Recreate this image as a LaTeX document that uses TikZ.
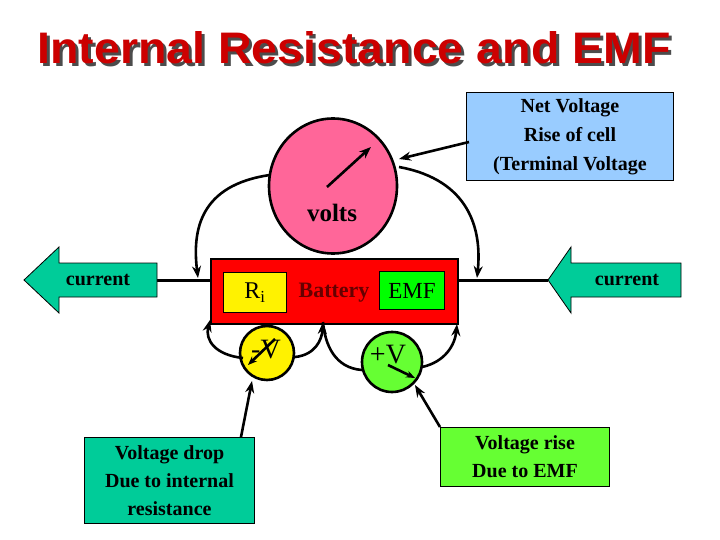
\documentclass[tikz,border=0pt]{standalone}
\usepackage{fontspec}
\setmainfont{Liberation Serif}
\newfontfamily\titlefont{Liberation Sans}
\usetikzlibrary{arrows.meta,shapes.arrows,shapes.geometric}
\definecolor{pinkm}{HTML}{FF6699}
\definecolor{lblue}{HTML}{99CCFF}
\definecolor{teal2}{HTML}{00CC99}
\definecolor{lgreen}{HTML}{66FF33}
\definecolor{titred}{HTML}{CC0000}
\newcommand{\titletext}{\resizebox{633pt}{32pt}{\titlefont\bfseries Internal Resistance and EMF}}
\begin{document}
\begin{tikzpicture}[x=1pt,y=-1pt,
  wire/.style={line width=3pt},
  conn/.style={line width=2.6pt,-{Stealth[length=12pt,width=9pt]}},
  txt/.style={font=\fontsize{20}{29}\selectfont\bfseries,align=center},
  box/.style={draw=black,line width=1pt,inner sep=0pt,anchor=north west}]
\useasboundingbox (0,0) rectangle (720,540);
\fill[white] (0,0) rectangle (720,540);
% title (with shadow in one node)
\node[inner sep=0pt] (title) at (354,49) {\rlap{\raisebox{-3pt}{\hspace{3pt}\textcolor{black!70}{\titletext}}}\textcolor{titred}{\titletext}};
% wires
\coordinate (wl) at (157,280); \coordinate (wr) at (548,280);
\draw[wire] (wl) -- (210,280);
\draw[wire] (457,280) -- (wr);
% current arrows
\draw[fill=teal2,line width=0.8pt] (157,263) -- (59,263) -- (59,247) -- (24,280) -- (59,313) -- (59,297) -- (157,297) -- cycle;
\node[txt] (cl) at (98,280) {current};
\draw[fill=teal2,line width=0.8pt] (681,263) -- (571,263) -- (571,247) -- (548,280) -- (571,313) -- (571,297) -- (681,297) -- cycle;
\node[txt] (cr) at (627,280) {current};
% battery
\node[box,fill=red,line width=2pt,minimum width=247pt,minimum height=65pt] (bat) at (210,258) {};
\node[box,fill=yellow,minimum width=63pt,minimum height=40pt] (ri) at (223,272) {};
\node[font=\fontsize{24}{24}\selectfont] at (ri.center) {R\textsubscript{i}};
\node[box,fill=green,minimum width=65pt,minimum height=38pt] (emf) at (379,271) {};
\node[font=\fontsize{23}{24}\selectfont] at (emf.center) {EMF};
\node[font=\fontsize{22}{24}\selectfont\bfseries,text=black!60!red] (battxt) at (334,293) {Battery};
% meter
\node[draw,line width=2.6pt,fill=pinkm,ellipse,minimum width=128pt,minimum height=135pt,inner sep=0pt] (m) at (333,186) {};
\node[font=\fontsize{25}{26}\selectfont\bfseries] (volts) at (332,213) {volts};
\coordinate (n1) at (327,187); \coordinate (n2) at (371,147);
\draw[conn] (n1) -- (n2);
% arcs from meter
\coordinate (ml) at (270,175); \coordinate (mr) at (399,167);
\coordinate (tl) at (198,278); \coordinate (tr) at (477,278);
\draw[conn] (ml) .. controls (200,185) and (192,230) .. (tl);
\draw[conn] (mr) .. controls (470,180) and (482,230) .. (tr);
% net voltage box
\node[box,fill=lblue,minimum width=207pt,minimum height=88pt] (nv) at (466,92) {};
\node[txt] at (nv.center) {Net Voltage\\Rise of cell\\(Terminal Voltage};
\coordinate (nvt) at (399,159);
\draw[conn] (469,142) -- (nvt);
% -V and +V
\node[circle,draw,line width=2.6pt,fill=yellow,minimum size=54pt,inner sep=0pt] (mv) at (267,353) {};
\node[font=\fontsize{28}{28}\selectfont] at (266,350) {-V};
\draw[conn,-{Stealth[length=9pt,width=7pt]}] (275,339) -- (248,365);
\node[circle,draw,line width=2.6pt,fill=lgreen,minimum size=60pt,inner sep=0pt] (pv) at (392,362) {};
\node[font=\fontsize{28}{28}\selectfont] at (388,355) {+V};
\draw[conn,-{Stealth[length=9pt,width=7pt]}] (388,365) -- (415,378);
% arcs to battery
\coordinate (b1) at (210,320); \coordinate (b2) at (323,322); \coordinate (b3) at (457,324);
\draw[conn] (243,358) .. controls (215,355) and (205,340) .. (b1);
\draw[conn] (295,357) .. controls (315,355) and (322,340) .. (b2);
\draw[line width=2.6pt] (362,370) .. controls (335,368) and (325,345) .. (b2);
\draw[conn] (422,367) .. controls (445,362) and (455,345) .. (b3);
% bottom boxes
\node[box,fill=teal2,minimum width=170pt,minimum height=86pt] (vd) at (84,437) {};
\node[txt,font=\fontsize{20}{28}\selectfont\bfseries] at (vd.center) {Voltage drop\\Due to internal\\resistance};
\draw[conn] (241,437) -- (252,381);
\node[box,fill=lgreen,minimum width=169pt,minimum height=59pt] (vr) at (440,427) {};
\node[txt,font=\fontsize{20}{28}\selectfont\bfseries] at (vr.center) {Voltage rise\\Due to EMF};
\draw[conn] (440,427) -- (415,385);
\end{tikzpicture}
\end{document}
